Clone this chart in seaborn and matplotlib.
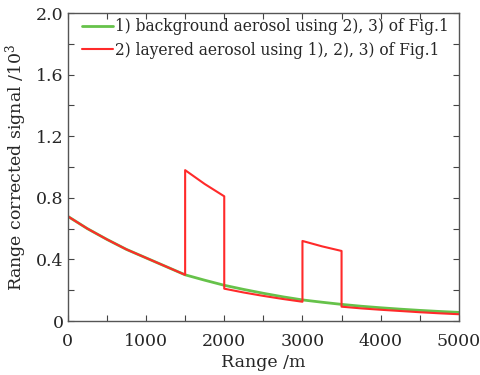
import numpy as np
import pandas as pd
import matplotlib
matplotlib.use("Agg")
import matplotlib.pyplot as plt
import seaborn as sns
from matplotlib.ticker import MultipleLocator, FuncFormatter

# Background aerosol
bg_range = [0, 250, 500, 750, 1000, 1250, 1500, 1750, 2000, 2250, 2500, 2750,
            3000, 3250, 3500, 3750, 4000, 4250, 4500, 4750, 5000]
bg_signal = [0.68, 0.60, 0.53, 0.465, 0.41, 0.355, 0.30, 0.265, 0.232, 0.205, 0.18,
             0.157, 0.137, 0.122, 0.108, 0.096, 0.086, 0.077, 0.069, 0.062, 0.056]

# Layered aerosol
ly_range = [0, 250, 500, 750, 1000, 1250, 1500, 1500, 1750, 2000, 2000, 2250, 2500,
            2750, 3000, 3000, 3250, 3500, 3500, 3750, 4000, 4250, 4500, 4750, 5000]
ly_signal = [0.68, 0.60, 0.53, 0.465, 0.41, 0.355, 0.30, 0.98, 0.89, 0.81, 0.21, 0.185,
             0.163, 0.143, 0.125, 0.52, 0.485, 0.455, 0.093, 0.082, 0.073, 0.065,
             0.057, 0.05, 0.044]

labels = ["1) background aerosol using 2), 3) of Fig.1",
          "2) layered aerosol using 1), 2), 3) of Fig.1"]

sns.set_style("ticks")
plt.rcParams['font.family'] = ['DejaVu Serif']
plt.rcParams['mathtext.fontset'] = 'dejavuserif'

fig = plt.figure(figsize=(4.81, 3.75), dpi=100)
ax = fig.add_axes([0.141, 0.144, 0.813, 0.821])

df_bg = pd.DataFrame({"x": bg_range, "y": bg_signal})
df_ly = pd.DataFrame({"x": ly_range, "y": ly_signal})

sns.lineplot(data=df_bg, x="x", y="y", ax=ax, color="#66c24a", lw=2.0,
             sort=False, estimator=None, label=labels[0])
sns.lineplot(data=df_ly, x="x", y="y", ax=ax, color="#ff2a2a", lw=1.5,
             sort=False, estimator=None, label=labels[1])

ax.set_xlim(0, 5000)
ax.set_ylim(0, 2.0)
ax.xaxis.set_major_locator(MultipleLocator(1000))
ax.xaxis.set_minor_locator(MultipleLocator(500))
ax.yaxis.set_major_locator(MultipleLocator(0.4))
ax.yaxis.set_minor_locator(MultipleLocator(0.2))
ax.yaxis.set_major_formatter(FuncFormatter(lambda v, p: "0" if abs(v) < 1e-9 else f"{v:.1f}"))

ax.tick_params(which="both", direction="in", top=True, right=True, length=4,
               width=0.8, color="#444444", labelsize=12.5)
ax.tick_params(axis="x", which="major", pad=8.5)
ax.tick_params(axis="y", which="major", pad=3)
for s in ax.spines.values():
    s.set_color("#555555")
    s.set_linewidth(1.0)

ax.set_xlabel("Range /m", fontsize=12.5, labelpad=3)
ax.set_ylabel("Range corrected signal /$10^3$", fontsize=12.5, labelpad=5)

leg = ax.legend(loc="upper left", bbox_to_anchor=(0.036, 0.983), frameon=False,
                fontsize=11.2, handlelength=2.0, handletextpad=0.1,
                borderaxespad=0, borderpad=0, labelspacing=0.42)

fig.savefig("out.png", dpi=100)
